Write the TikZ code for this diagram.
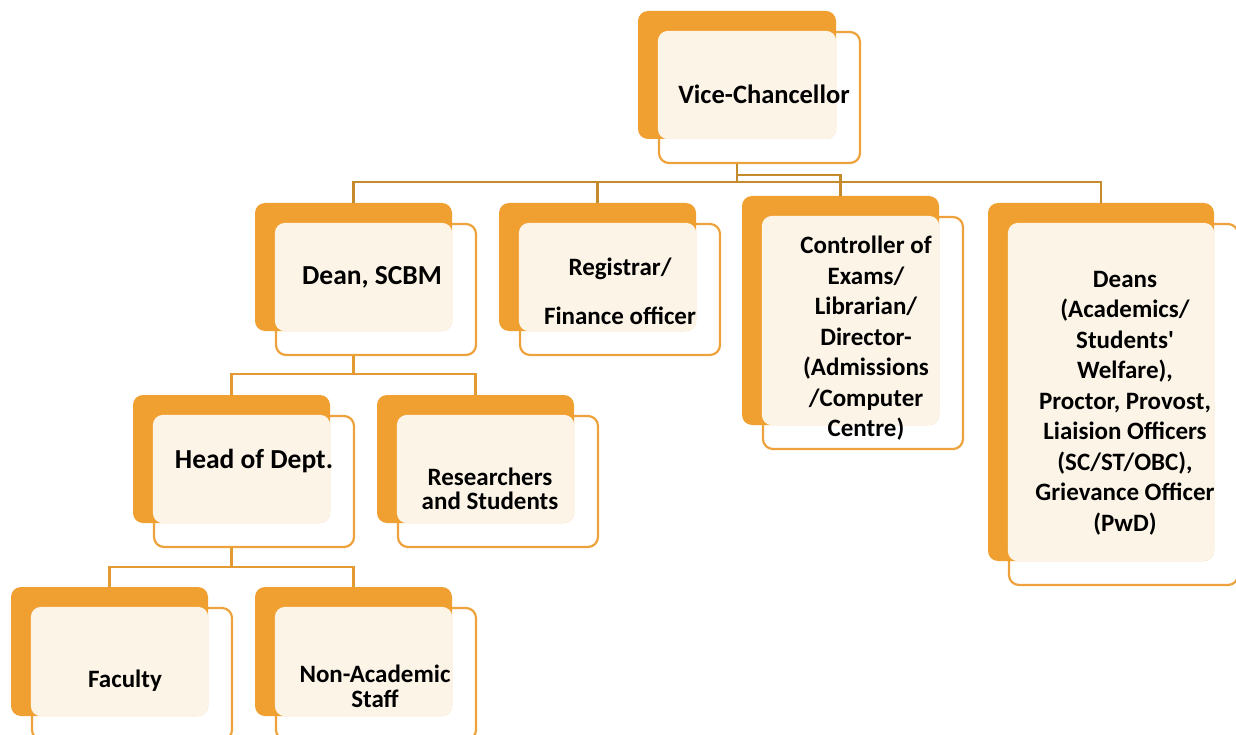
\documentclass[tikz,border=0pt]{standalone}
\usepackage{fontspec}
\setmainfont{Carlito}
\definecolor{orgback}{HTML}{F0A030}
\definecolor{orgline}{HTML}{EDA23C}
\definecolor{cream}{HTML}{FDF4E8}
\definecolor{busdark}{HTML}{C48A2C}
\definecolor{buslight}{HTML}{E49A32}
\newcommand\lblfont[2]{\bfseries\fontsize{#1}{#2}\selectfont\lineskiplimit=-30pt\relax}
\tikzset{
 frontbox/.style={draw=orgline, line width=2.2pt, fill=white, rounded corners=10pt, inner sep=0pt},
 backbox/.style={fill=orgback, rounded corners=10pt, inner sep=0pt},
 lbl/.style={font=\lblfont{25}{30.5}, align=center, text=black, inner sep=0pt},
 bus/.style={draw=busdark, line width=2.2pt},
 bustwo/.style={draw=buslight, line width=2.6pt},
}
% #1 name, #2 x1, #3 y1, #4 x2, #5 y2 of the back (filled) box
\newcommand\orgbox[5]{%
 \node[frontbox, minimum width={(#4)-(#2)+3}, minimum height={(#5)-(#3)+3}] (#1) at ({(#2+#4+45)/2},{(#3+#5+45)/2}) {};
 \node[backbox, minimum width={(#4)-(#2)}, minimum height={(#5)-(#3)}] (#1-b) at ({(#2+#4)/2},{(#3+#5)/2}) {};
 \fill[cream, rounded corners=10pt] (#1.north west) rectangle (#1-b.south east);
}
\begin{document}
\begin{tikzpicture}[x=1pt,y=-1pt]
\useasboundingbox (0,0) rectangle (1236,735);

\coordinate (vcdrop) at (737,182);
\coordinate (vcside) at (737,175);

\orgbox{vc}{638}{11}{836}{139}
\node[lbl, font=\lblfont{26.5}{30}] (vc-t) at (764,94) {Vice-Chancellor};

\orgbox{dean}{255}{203}{452}{331}
\node[lbl, font=\lblfont{27.5}{30}] (dean-t) at (372,277) {Dean, SCBM};

\orgbox{reg}{499}{203}{696}{331}
\node[lbl] (reg-t) at (620,291.5) {Registrar/\\[18.5pt]Finance officer};

\orgbox{ctrl}{742}{196}{939}{425}
\node[lbl] (ctrl-t) at (866,338.5) {Controller of\\Exams/\\Librarian/\\Director-\\(Admissions\\/Computer\\Centre)};

\orgbox{deans}{988}{203}{1214}{561}
\node[lbl] (deans-t) at (1125,403) {Deans\\(Academics/\\Students\textquotesingle\\Welfare),\\Proctor, Provost,\\Liaision Officers\\(SC/ST/OBC),\\Grievance Officer\\(PwD)};

\orgbox{hod}{133}{395}{330}{523}
\node[lbl, font=\lblfont{27.5}{30}] (hod-t) at (254,461) {Head of Dept.};

\orgbox{res}{377}{395}{574}{523}
\node[lbl, font=\lblfont{25}{24}] (res-t) at (490,489) {Researchers\\and Students};

\orgbox{fac}{11}{587}{208}{716}
\node[lbl] (fac-t) at (125,681) {Faculty};

\orgbox{nas}{255}{587}{452}{716}
\node[lbl, font=\lblfont{25}{25}] (nas-t) at (375,686.5) {Non-Academic\\Staff};

% top-level connectors
\draw[bus] (vc-b.south |- vc.south) -- (vcdrop);
\draw[bus] (vcside) -| (ctrl-b.north);
\draw[bus] (dean-b.north) -- ++(0,-21) -| (deans-b.north);
\draw[bus] (reg-b.north) -- ++(0,-21);

% lower connectors
\draw[bustwo] (dean-b.south |- dean.south) -- ++(0,19);
\draw[bustwo] (hod-b.north) -- ++(0,-21) -| (res-b.north);
\draw[bustwo] (hod-b.south |- hod.south) -- ++(0,20);
\draw[bustwo] (fac-b.north) -- ++(0,-20) -| (nas-b.north);
\end{tikzpicture}
\end{document}
